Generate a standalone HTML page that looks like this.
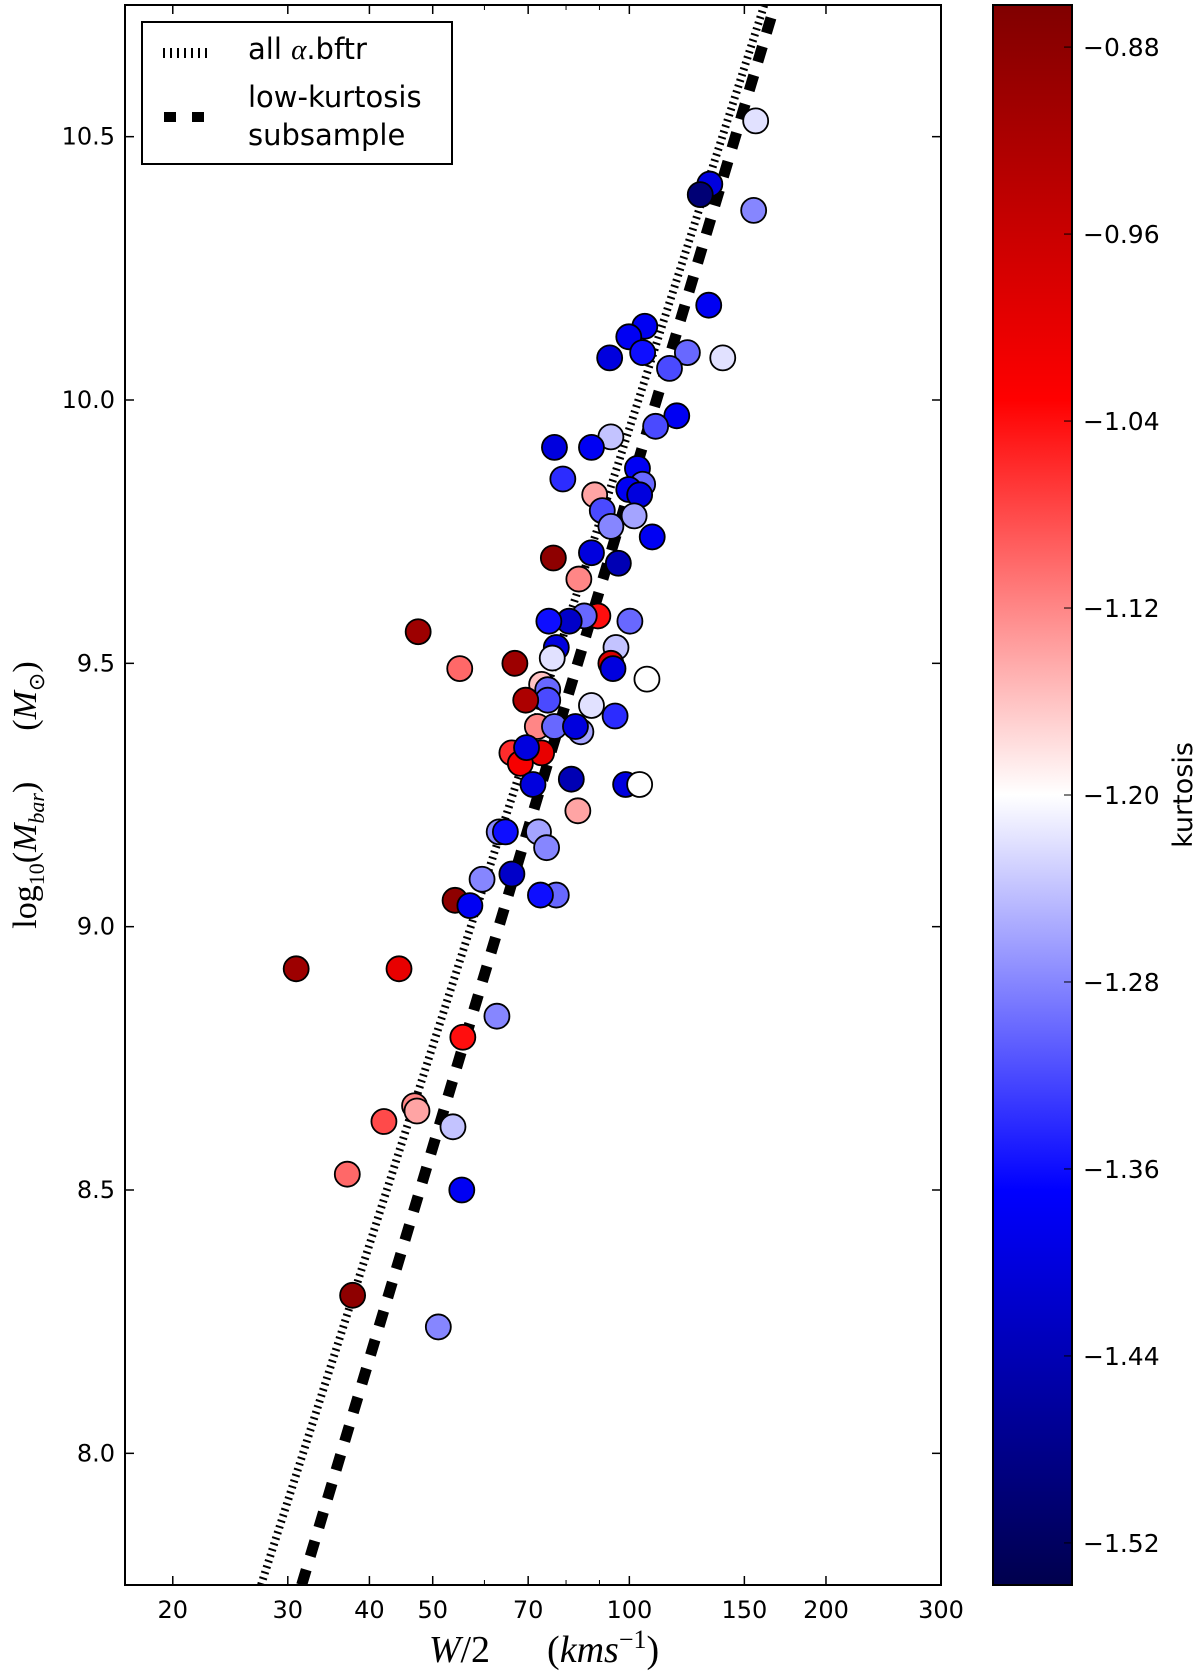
<!DOCTYPE html>
<html><head><meta charset="utf-8"><style>
html,body{margin:0;padding:0;background:#fff;}
svg{display:block;}
text{font-family:"DejaVu Sans","Liberation Sans",sans-serif;fill:#000;white-space:pre;}
</style></head><body>
<svg id="chart" width="1200" height="1673" viewBox="0 0 1200 1673" xmlns="http://www.w3.org/2000/svg">
<defs>
<linearGradient id="cbgrad" x1="0" y1="1" x2="0" y2="0">
<stop offset="0" stop-color="rgb(0,0,77)"/>
<stop offset="0.25" stop-color="rgb(0,0,255)"/>
<stop offset="0.5" stop-color="rgb(255,255,255)"/>
<stop offset="0.75" stop-color="rgb(255,0,0)"/>
<stop offset="1" stop-color="rgb(128,0,0)"/>
</linearGradient>
<clipPath id="plotclip"><rect x="125" y="5" width="816" height="1580"/></clipPath>
</defs>
<g id="plot" clip-path="url(#plotclip)"></g>
<g id="axes"></g>
<g id="legend">
<rect x="142" y="22" width="310" height="142" fill="#fff" stroke="#000" stroke-width="2"/>
<line x1="163" y1="53" x2="211" y2="53" stroke="#000" stroke-width="10" stroke-dasharray="2,5"/>
<line x1="164" y1="117" x2="207" y2="117" stroke="#000" stroke-width="10" stroke-dasharray="12,16"/>
<text x="248" y="59" font-size="29">all <tspan style="font-family:'Liberation Serif',serif;font-style:italic">α</tspan>.bftr</text>
<text x="248" y="107" font-size="29">low-kurtosis</text>
<text x="248" y="145" font-size="29">subsample</text>
</g>
<g id="colorbar">
<rect x="993" y="5" width="79" height="1580" fill="url(#cbgrad)" stroke="#000" stroke-width="2"/>
</g>
<text transform="translate(1192,795) rotate(-90)" text-anchor="middle" font-size="27">kurtosis</text>
<text transform="translate(36,795) rotate(-90)" text-anchor="middle" font-size="34" style="font-family:'Liberation Serif',serif"><tspan>log</tspan><tspan font-size="22" dy="8">10</tspan><tspan dy="-8">(</tspan><tspan font-style="italic">M</tspan><tspan font-style="italic" font-size="22" dy="8">bar</tspan><tspan dy="-8">)      (</tspan><tspan font-style="italic">M</tspan><tspan font-size="22" dy="8">⊙</tspan><tspan dy="-8">)</tspan></text>
<text x="544" y="1662" text-anchor="middle" font-size="38" style="font-family:'Liberation Serif',serif"><tspan font-style="italic">W</tspan><tspan>/2      (</tspan><tspan font-style="italic">kms</tspan><tspan font-size="26" dy="-14">−1</tspan><tspan dy="14">)</tspan></text>
</svg>
<script>
var xTicks=[20,30,40,50,70,100,150,200,300];
var xMinor=[60,80,90];
var yTicks=[8.0,8.5,9.0,9.5,10.0,10.5];
var cTicks=[-0.88,-0.96,-1.04,-1.12,-1.20,-1.28,-1.36,-1.44,-1.52];
var fitAllX=[27.3,160.9];
var fitAllY=[7.75,10.75];
var fitLowX=[31.5,167];
var fitLowY=[7.75,10.75];
var ptW=[156.1,132.8,128.4,155.0,132.3,105.6,99.8,104.8,122.7,115.2,139.0,93.3,118.2,109.7,93.7,76.8,87.5,102.9,79.1,104.8,99.8,103.7,88.5,90.9,93.7,101.7,108.4,87.5,96.2,76.5,83.7,89.5,85.3,80.9,75.3,100.2,95.4,77.3,76.2,47.5,55.0,66.8,93.7,94.4,106.4,73.4,75.0,75.0,69.4,87.5,95.1,72.3,76.8,84.3,82.7,73.4,66.1,68.1,69.6,81.5,98.7,103.7,83.4,71.2,63.2,64.6,72.6,74.7,66.1,59.5,77.3,73.1,54.1,57.0,30.9,44.4,62.7,55.6,46.9,42.1,47.3,53.7,37.0,55.4,37.7,51.0];
var ptM=[10.53,10.41,10.39,10.36,10.18,10.14,10.12,10.09,10.09,10.06,10.08,10.08,9.97,9.95,9.93,9.91,9.91,9.87,9.85,9.84,9.83,9.82,9.82,9.79,9.76,9.78,9.74,9.71,9.69,9.70,9.66,9.59,9.59,9.58,9.58,9.58,9.53,9.53,9.51,9.56,9.49,9.50,9.50,9.49,9.47,9.46,9.45,9.43,9.43,9.42,9.40,9.38,9.38,9.37,9.38,9.33,9.33,9.31,9.34,9.28,9.27,9.27,9.22,9.27,9.18,9.18,9.18,9.15,9.10,9.09,9.06,9.06,9.05,9.04,8.92,8.92,8.83,8.79,8.66,8.63,8.65,8.62,8.53,8.50,8.30,8.24];
var ptK=[-1.22,-1.40,-1.50,-1.28,-1.38,-1.38,-1.38,-1.36,-1.30,-1.32,-1.22,-1.40,-1.38,-1.32,-1.24,-1.40,-1.38,-1.38,-1.34,-1.30,-1.38,-1.40,-1.14,-1.32,-1.28,-1.26,-1.38,-1.40,-1.44,-0.88,-1.12,-1.04,-1.30,-1.42,-1.36,-1.30,-1.24,-1.40,-1.22,-0.90,-1.10,-0.90,-0.98,-1.40,-1.20,-1.16,-1.30,-1.32,-0.92,-1.22,-1.34,-1.12,-1.30,-1.26,-1.40,-1.00,-1.06,-1.02,-1.40,-1.44,-1.40,-1.20,-1.14,-1.40,-1.28,-1.36,-1.26,-1.28,-1.42,-1.28,-1.30,-1.36,-0.88,-1.38,-0.90,-1.00,-1.28,-1.04,-1.12,-1.08,-1.14,-1.24,-1.10,-1.38,-0.88,-1.28];

var NS='http://www.w3.org/2000/svg';
var L=125,R=941,T=5,B=1585;
var xlo=Math.log10(16.9),xhi=Math.log10(300),ylo=7.75,yhi=10.75,clo=-1.538,chi=-0.862;
function sx(v){return L+(Math.log10(v)-xlo)/(xhi-xlo)*(R-L);}
function sy(v){return B-(v-ylo)/(yhi-ylo)*(B-T);}
function cy(v){return B-(v-clo)/(chi-clo)*(B-T);}
function cmap(k){
  var t=(k-clo)/(chi-clo);t=Math.max(0,Math.min(1,t));
  var st=[[0,0,0,77],[0.25,0,0,255],[0.5,255,255,255],[0.75,255,0,0],[1,128,0,0]];
  for(var i=0;i<4;i++){if(t<=st[i+1][0]){var f=(t-st[i][0])/(st[i+1][0]-st[i][0]);
    return 'rgb('+[1,2,3].map(function(j){return Math.round(st[i][j]+f*(st[i+1][j]-st[i][j]));}).join(',')+')';}}
  return 'rgb(128,0,0)';
}
function mk(tag,attrs,parent){var e=document.createElementNS(NS,tag);for(var a in attrs)e.setAttribute(a,attrs[a]);parent.appendChild(e);return e;}
var plot=document.getElementById('plot'),axes=document.getElementById('axes'),cb=document.getElementById('colorbar');

var l1=mk('line',{x1:sx(fitAllX[0]),y1:sy(fitAllY[0]),x2:sx(fitAllX[1]),y2:sy(fitAllY[1]),stroke:'#000','stroke-width':8,'stroke-dasharray':'2,4'},plot);


var l2=mk('line',{x1:sx(fitLowX[0]),y1:sy(fitLowY[0]),x2:sx(fitLowX[1]),y2:sy(fitLowY[1]),stroke:'#000','stroke-width':11,'stroke-dasharray':'16,14'},plot);



for(var i=0;i<ptW.length;i++){
  var c=mk('circle',{cx:sx(ptW[i]),cy:sy(ptM[i]),r:12.5,fill:cmap(ptK[i]),stroke:'#000','stroke-width':1.8},plot);
  
  
}

var fr=mk('rect',{x:L,y:T,width:R-L,height:B-T,fill:'none',stroke:'#000','stroke-width':2},axes);


xTicks.forEach(function(v){
  var x=sx(v);
  mk('line',{x1:x,y1:B,x2:x,y2:B-9,stroke:'#000','stroke-width':1.5},axes);
  mk('line',{x1:x,y1:T,x2:x,y2:T+9,stroke:'#000','stroke-width':1.5},axes);
  var t=mk('text',{x:x,y:B+33,'text-anchor':'middle','font-size':24},axes);
  t.textContent=v;
  
  
});
xMinor.forEach(function(v){
  var x=sx(v);
  mk('line',{x1:x,y1:B,x2:x,y2:B-5,stroke:'#000','stroke-width':1},axes);
  mk('line',{x1:x,y1:T,x2:x,y2:T+5,stroke:'#000','stroke-width':1},axes);
});
yTicks.forEach(function(v){
  var y=sy(v);
  mk('line',{x1:L,y1:y,x2:L+9,y2:y,stroke:'#000','stroke-width':1.5},axes);
  mk('line',{x1:R,y1:y,x2:R-9,y2:y,stroke:'#000','stroke-width':1.5},axes);
  var t=mk('text',{x:L-10,y:y+8,'text-anchor':'end','font-size':24},axes);
  t.textContent=v.toFixed(1);
  
  
});
cTicks.forEach(function(v){
  var y=cy(v);
  mk('line',{x1:1072,y1:y,x2:1064,y2:y,stroke:'#000','stroke-width':1},cb);
  var t=mk('text',{x:1083,y:y+9,'font-size':25},cb);
  t.textContent='\u2212'+Math.abs(v).toFixed(2);
  
  
});
</script>
</body></html>
